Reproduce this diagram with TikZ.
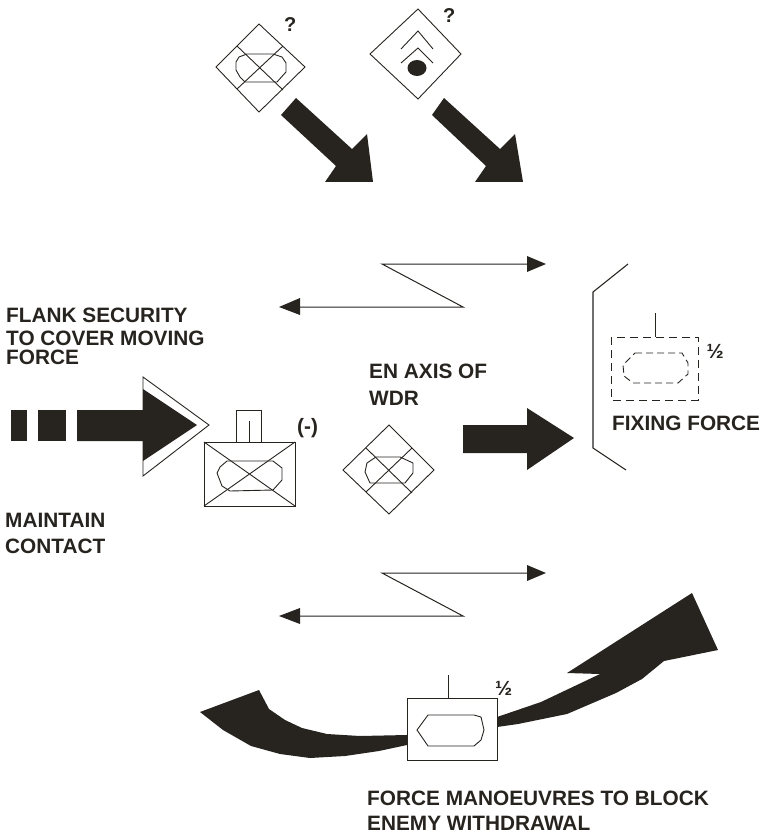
\documentclass[tikz,border=0pt]{standalone}
\usepackage{fontspec}
\setmainfont{Liberation Sans}
\definecolor{ink}{HTML}{272420}
\tikzset{
  lbl/.style={inner sep=0pt,anchor=west,align=left,text=ink,font=\fontsize{20.8}{26}\selectfont\bfseries},
  sym/.style={draw=ink,line width=0.9pt,line join=miter},
  solidfill/.style={fill=ink,draw=none},
  dash line/.style={draw=ink,line width=1pt,dash pattern=on 8pt off 5pt},
  thinarrow/.style={draw=ink,line width=1pt}
}
\begin{document}
\begin{tikzpicture}[x=1pt,y=-1pt]
\useasboundingbox (0,0) rectangle (767,834);
% top left diamond
\draw[sym] (259,24)--(305,67)--(259,112)--(216,67)--cycle;
\draw[sym] (237,46)--(283,90) (283,46)--(237,89);
\draw[sym] (247,54)--(273,54)--(282,57)--(286,63)--(286,72)--(277,82)--(245,82)--(240,77)--(236,70)--(236,62)--(239,57)--cycle;
\fill[solidfill] (296,98)--(281,115)--(336,166)--(325,182)--(373,182)--(367,134)--(352,149)--cycle;
\node[lbl,font=\fontsize{20}{22}\selectfont\bfseries] (q1) at (284,25) {?};
% top right diamond
\draw[sym] (418,9)--(461,54)--(418,99)--(370,54)--cycle;
\draw[sym] (401,49)--(418,31)--(433,49);
\draw[sym] (401,63)--(418,48)--(433,63);
\fill[solidfill] (417,68) circle[x radius=9.5pt,y radius=8pt];
\fill[solidfill] (444,98)--(432,115)--(486,166)--(475,182)--(523,182)--(515,134)--(500,149)--cycle;
\node[lbl,font=\fontsize{20}{22}\selectfont\bfseries] (q2) at (443,16) {?};
% upper zigzag
\fill[solidfill] (546,264)--(527,256)--(527,272)--cycle;
\draw[thinarrow] (527,264)--(382,264)--(463,307)--(298,307);
\fill[solidfill] (279,307)--(300,298)--(300,315)--cycle;
% flank arrow
\fill[solidfill] (11,410) rectangle (27,441);
\fill[solidfill] (38,410) rectangle (66,441);
\draw[sym] (143,377)--(209,425)--(143,476)--cycle;
\fill[solidfill] (77,410)--(143,410)--(143,389)--(197,425)--(143,461)--(143,441)--(77,441)--cycle;
% unit box
\draw[sym] (204,442) rectangle (295,506);
\draw[sym] (204,442)--(295,506) (295,442)--(204,506);
\draw[sym] (236,442)--(236,410)--(261,410)--(261,442);
\draw[sym] (249,421)--(249,442);
\draw[sym] (227,461)--(273,461)--(282,468)--(282,480)--(273,490)--(230,491)--(222,486)--(217,473)--(220,467)--cycle;
\node[lbl] (minus) at (297,428) {(-)};
% centre diamond
\draw[sym] (389,425)--(434,470)--(389,514)--(343,470)--cycle;
\draw[sym] (366,448)--(412,493) (412,448)--(366,492);
\draw[sym] (376,457)--(400,457)--(413,463)--(413,473)--(405,483)--(370,483)--(365,472)--(367,463)--cycle;
% main arrow
\fill[solidfill] (463,425)--(527,425)--(527,408)--(574,438)--(527,470)--(527,453)--(463,453)--cycle;
% bracket
\draw[sym,line width=1.1pt] (628,264)--(593,292)--(593,448)--(626,470);
% dashed unit
\draw[dash line] (611,337) rectangle (698,400);
\draw[sym] (655,313)--(655,337);
\draw[dash line,line width=0.9pt,dash pattern=on 7pt off 4pt] (635,353)--(682,353)--(688,363)--(688,374)--(678,383)--(633,383)--(624,376)--(623,365)--cycle;
\node[lbl,font=\fontsize{20.5}{22}\selectfont\bfseries] (half1) at (706.5,351) {½};
% lower zigzag
\fill[solidfill] (546,573)--(527,565)--(527,581)--cycle;
\draw[thinarrow] (527,573)--(382,573)--(463,616)--(298,616);
\fill[solidfill] (279,616)--(300,608)--(300,624)--cycle;
% curved arrows
\fill[solidfill] (497,717)--(541,702)--(600,674)--(567,673)--(692,593)--(718,650)--(664,661)--(642,679)--(616,693)--(567,714)--(518,724)--(497,727)--cycle;
\fill[solidfill] (407,735)--(360,736)--(327,734)--(302,728)--(285,720)--(269,709)--(259,690)--(200,712)--(223,730)--(251,746)--(280,754)--(310,758)--(345,756)--(379,751)--(407,745)--cycle;
\draw[sym] (407,698) rectangle (497,760);
\draw[sym] (448,675)--(448,698);
\draw[sym] (428,715)--(474,715)--(481,717)--(484,730)--(481,740)--(474,746)--(428,746)--(417,730)--cycle;
\node[lbl,font=\fontsize{20.5}{22}\selectfont\bfseries] (half2) at (495,688) {½};
% labels
\node[lbl,font=\fontsize{20.8}{23}\selectfont\bfseries] (flank) at (6,336) {FLANK SECURITY\\TO COVER MOVING\\[-4pt]FORCE};
\node[lbl,font=\fontsize{20.8}{27}\selectfont\bfseries] (axis) at (369,385) {EN AXIS OF\\WDR};
\node[lbl] (fixing) at (612,423) {FIXING FORCE};
\node[lbl] (maintain) at (5,533) {MAINTAIN\\CONTACT};
\node[lbl,font=\fontsize{20.8}{25}\selectfont\bfseries] (block) at (367,811) {FORCE MANOEUVRES TO BLOCK\\ENEMY WITHDRAWAL};
\end{tikzpicture}
\end{document}
